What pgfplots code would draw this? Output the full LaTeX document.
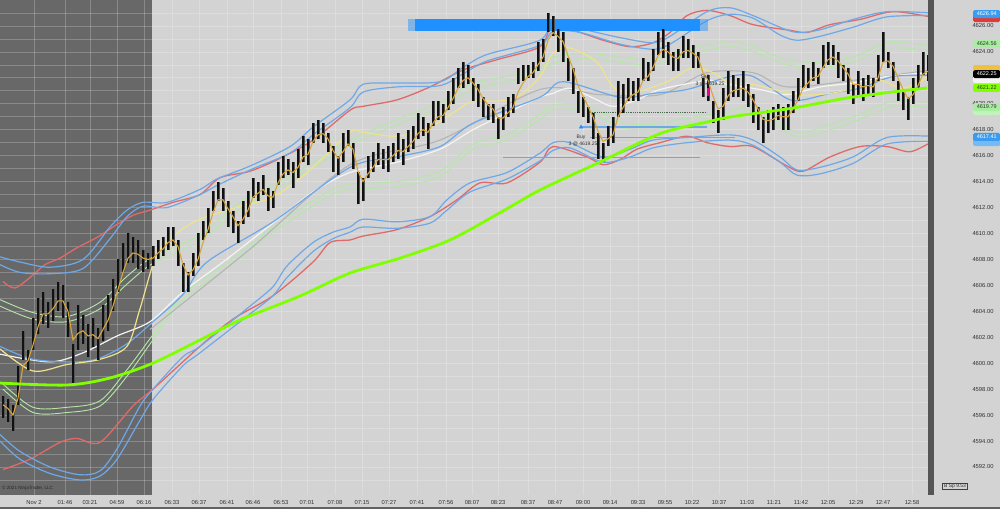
\documentclass[border=0pt]{standalone}
\usepackage{fontspec}
\setmainfont{Liberation Sans}
\usepackage{xcolor}
\usepackage{pgfplots}
\usepackage{pgfplotstable}
\pgfplotsset{compat=1.18}
\definecolor{bglight}{HTML}{D3D3D3}
\definecolor{bgdark}{HTML}{686868}
\definecolor{bandred}{HTML}{E06A6A}
\definecolor{bandblue}{HTML}{6EA8E8}
\definecolor{lgreen}{HTML}{B5E8A8}
\definecolor{yellowl}{HTML}{EEE38C}
\definecolor{whitel}{HTML}{F4F4F4}
\definecolor{grayl}{HTML}{B4B4B4}
\definecolor{goldl}{HTML}{D8A53C}
\definecolor{sma}{HTML}{80FF00}
\definecolor{barcol}{HTML}{111111}
\definecolor{barshade}{HTML}{555555}
\definecolor{barblue}{HTML}{1E90FF}
\definecolor{scroll}{HTML}{555555}
\definecolor{labelgray}{HTML}{303030}
\definecolor{flagblue}{HTML}{3A9CF0}
\definecolor{flagred}{HTML}{E03A3A}
\definecolor{flaglg}{HTML}{A8EEA0}
\definecolor{flaggold}{HTML}{F0C040}
\definecolor{dkgreen}{HTML}{4E6A4E}
\pagecolor{bglight}

\pgfplotstableread{
x lo hi ema
3 4595.75 4597.5 4596.8
8 4595.5 4597.25 4596.5
13 4594.75 4596.75 4596.0
18 4596.75 4599.75 4597.3
23 4600.25 4602.5 4599.8
28 4599.5 4601.0 4600.2
33 4601.0 4603.5 4601.4
38 4602.25 4605.0 4602.8
43 4603.0 4605.5 4603.8
48 4602.75 4604.75 4603.8
53 4603.25 4605.75 4604.2
58 4604.0 4606.25 4604.8
63 4603.5 4606.0 4604.8
68 4602.0 4604.75 4604.0
73 4598.5 4601.5 4601.8
78 4601.0 4604.5 4602.3
83 4601.5 4603.75 4602.5
88 4600.5 4603.0 4602.1
93 4601.25 4603.5 4602.2
98 4600.25 4602.75 4601.9
103 4601.75 4604.5 4602.6
108 4602.5 4605.25 4603.3
113 4604.0 4606.5 4604.4
118 4605.5 4608.0 4605.7
123 4607.0 4609.25 4607.0
128 4607.75 4610.0 4608.1
133 4607.75 4609.75 4608.5
138 4607.25 4609.5 4608.4
143 4607.0 4608.75 4608.1
148 4607.25 4608.5 4608.0
153 4607.5 4609.0 4608.1
158 4608.0 4609.5 4608.5
163 4608.25 4609.75 4608.8
168 4608.75 4610.5 4609.3
173 4609.0 4610.5 4609.5
178 4607.5 4609.5 4609.0
183 4605.5 4607.75 4607.6
188 4605.5 4607.0 4606.8
193 4606.75 4608.5 4607.2
198 4607.5 4610.0 4608.0
203 4609.5 4611.0 4609.3
208 4610.0 4612.0 4610.3
213 4611.75 4613.25 4611.6
218 4612.5 4614.0 4612.6
223 4611.75 4613.5 4612.6
228 4610.5 4612.5 4611.9
233 4610.0 4611.75 4611.3
238 4609.25 4611.0 4610.6
243 4610.75 4612.5 4611.1
248 4611.25 4613.25 4611.8
253 4612.75 4614.25 4612.8
258 4612.5 4614.0 4613.1
263 4613.0 4614.5 4613.4
268 4611.75 4613.5 4612.9
273 4612.0 4613.25 4612.8
278 4613.75 4615.5 4613.9
283 4614.25 4616.0 4614.6
288 4614.5 4615.75 4614.9
293 4613.5 4615.5 4614.7
298 4614.25 4616.5 4615.1
303 4615.5 4617.5 4615.9
308 4615.25 4617.25 4616.1
313 4617.0 4618.5 4617.1
318 4617.25 4618.75 4617.6
323 4617.0 4618.5 4617.7
328 4616.25 4617.75 4617.3
333 4614.75 4616.75 4616.4
338 4614.5 4616.0 4615.8
343 4615.5 4617.75 4616.3
348 4616.75 4618.0 4616.9
353 4615.0 4617.0 4616.5
358 4612.25 4614.75 4614.8
363 4612.5 4614.25 4614.0
368 4614.25 4616.0 4614.6
373 4614.75 4616.25 4615.1
378 4615.25 4617.0 4615.7
383 4615.0 4616.5 4615.7
388 4614.75 4616.75 4615.7
393 4615.5 4617.0 4616.0
398 4615.75 4617.75 4616.4
403 4615.25 4617.25 4616.3
408 4616.25 4618.0 4616.7
413 4616.5 4618.25 4617.1
418 4617.25 4619.25 4617.7
423 4617.5 4619.0 4618.0
428 4616.5 4618.5 4617.8
433 4618.25 4620.25 4618.5
438 4618.75 4620.25 4619.0
443 4618.5 4620.0 4619.1
448 4619.5 4621.0 4619.7
453 4620.0 4622.0 4620.4
458 4621.25 4622.75 4621.2
463 4621.25 4623.25 4621.8
468 4621.5 4623.0 4622.0
473 4620.25 4622.0 4621.6
478 4619.75 4621.5 4621.1
483 4619.0 4620.5 4620.4
488 4618.75 4620.0 4619.9
493 4618.5 4620.0 4619.6
498 4617.25 4619.0 4618.9
503 4618.0 4619.75 4618.9
508 4619.0 4620.5 4619.3
513 4619.25 4620.75 4619.7
518 4621.5 4622.75 4620.9
523 4621.75 4623.0 4621.6
528 4622.0 4623.0 4622.1
533 4622.0 4623.25 4622.4
538 4622.5 4624.75 4623.0
543 4623.25 4625.0 4623.6
548 4625.5 4627.0 4624.9
553 4625.25 4626.75 4625.5
558 4624.0 4625.75 4625.2
563 4623.25 4625.5 4624.8
568 4621.75 4623.5 4623.7
573 4620.75 4622.75 4622.7
578 4619.25 4621.0 4621.4
583 4619.0 4620.5 4620.6
588 4618.5 4619.75 4619.8
593 4617.25 4619.25 4619.0
598 4615.75 4617.75 4617.9
603 4615.5 4617.0 4617.1
608 4616.75 4618.25 4617.3
613 4617.0 4619.0 4617.6
618 4619.0 4621.75 4619.0
623 4619.25 4621.5 4619.7
628 4620.25 4622.0 4620.4
633 4620.25 4621.75 4620.7
638 4620.25 4622.0 4620.9
643 4621.75 4623.5 4621.8
648 4621.75 4623.25 4622.1
653 4622.5 4624.25 4622.8
658 4623.75 4625.5 4623.7
663 4623.5 4625.75 4624.2
668 4623.0 4624.75 4624.0
673 4622.5 4624.0 4623.6
678 4622.5 4624.25 4623.5
683 4623.5 4625.25 4624.0
688 4623.5 4625.0 4624.1
693 4622.75 4624.5 4623.9
698 4622.75 4624.0 4623.6
703 4620.5 4622.0 4622.4
708 4620.25 4622.25 4621.8
713 4618.5 4620.25 4620.6
718 4617.75 4619.5 4619.6
723 4618.75 4621.25 4619.8
728 4620.25 4622.5 4620.6
733 4620.5 4622.25 4621.0
738 4620.5 4622.0 4621.1
743 4620.25 4622.5 4621.2
748 4619.75 4621.5 4620.9
753 4618.5 4620.75 4620.3
758 4618.0 4619.75 4619.6
763 4617.0 4619.0 4618.8
768 4617.75 4619.5 4618.7
773 4618.0 4619.75 4618.8
778 4618.75 4620.0 4619.1
783 4618.0 4619.75 4619.0
788 4618.0 4620.0 4619.0
793 4619.25 4621.0 4619.6
798 4620.25 4622.0 4620.3
803 4621.25 4623.0 4621.2
808 4621.25 4622.75 4621.6
813 4621.75 4623.25 4622.0
818 4621.5 4622.75 4622.1
823 4622.75 4624.5 4622.8
828 4623.0 4624.75 4623.4
833 4623.0 4624.5 4623.6
838 4622.0 4624.0 4623.3
843 4621.75 4623.0 4622.8
848 4620.75 4622.75 4622.3
853 4620.0 4621.5 4621.5
858 4620.5 4622.5 4621.5
863 4620.25 4622.0 4621.3
868 4620.75 4622.25 4621.4
873 4620.5 4622.0 4621.3
878 4621.75 4623.75 4622.0
883 4623.25 4625.5 4623.2
888 4622.75 4624.0 4623.3
893 4621.75 4623.25 4622.9
898 4620.25 4621.75 4622.0
903 4619.5 4621.0 4621.1
908 4618.75 4620.5 4620.4
913 4620.0 4622.0 4620.7
918 4621.25 4623.0 4621.4
923 4622.25 4624.0 4622.3
928 4621.75 4623.75 4622.5
}\bars

\begin{document}
\begin{tikzpicture}
\begin{axis}[
  at={(0pt,0pt)}, anchor=south west,
  scale only axis, width=935pt, height=495pt,
  xmin=0, xmax=935, ymin=4589.84, ymax=4628,
  clip=false, set layers,
  axis line style={draw=none},
  major tick length=0pt, minor tick length=0pt,
  ytick={4592,4594,...,4626},
  minor ytick={4591,4593,...,4627},
  yticklabel pos=right,
  grid=both,
  major grid style={white, opacity=0.22, line width=0.7pt},
  minor grid style={white, opacity=0.22, line width=0.7pt},
  xtick={34,65,90,117,144,172,199,227,253,281,307,335,362,389,417,446,472,498,528,555,583,610,638,665,692,719,747,774,801,828,856,883,912},
  xticklabels={Nov 2,01:46,03:21,04:59,06:16,06:33,06:37,06:41,06:46,06:53,07:01,07:08,07:15,07:27,07:41,07:56,08:07,08:23,08:37,08:47,09:00,09:14,09:33,09:55,10:22,10:37,11:03,11:21,11:42,12:05,12:29,12:47,12:58},
  tick label style={font=\fontsize{5.8}{7}\selectfont, text=labelgray},
  xticklabel style={yshift=-2pt},
  yticklabel style={anchor=east, xshift=62pt, /pgf/number format/.cd, fixed, fixed zerofill, precision=2, 1000 sep={}, assume math mode=true},
]
% dark pre-session region
\addplot[fill=bgdark, draw=none, on layer=axis background, forget plot] coordinates {(0,4589.84) (152,4589.84) (152,4628) (0,4628)};

% outer bands
\addplot[bandred, line width=1.3pt, smooth] coordinates {(3,4606.3) (15,4605.8) (33,4606.8) (45,4607.6) (60,4608.1) (77,4608.9) (97,4609.7) (117,4610.7) (133,4611.4) (150,4611.8) (173,4612.4) (200,4613.0) (220,4614.3) (250,4614.8) (280,4615.8) (313,4617.2) (350,4619.5) (363,4619.8) (397,4620.3) (430,4621.3) (463,4622.6) (497,4623.4) (540,4624.4) (553,4626.1) (580,4625.5) (603,4624.9) (630,4624.4) (653,4624.7) (670,4625.5) (687,4626.8) (707,4627.2) (730,4626.8) (753,4626.1) (787,4625.7) (807,4625.5) (830,4626.1) (860,4626.5) (893,4627.1) (930,4626.7)};
\addplot[bandblue, line width=1.2pt, smooth] coordinates {(0,4608.2) (20,4607.8) (50,4607.4) (83,4608.0) (110,4610.5) (127,4611.8) (143,4612.4) (167,4612.4) (200,4613.4) (217,4614.2) (250,4615.2) (290,4616.7) (313,4618.2) (350,4620.3) (363,4621.5) (397,4621.6) (440,4621.7) (463,4622.8) (487,4623.8) (540,4624.9) (553,4626.3) (580,4625.8) (620,4625.1) (653,4624.7) (670,4625.2) (707,4627.1) (730,4627.4) (753,4626.8) (780,4625.9) (797,4625.5) (820,4625.7) (853,4626.5) (887,4627.1) (930,4627.0)};
\addplot[bandblue, line width=1.2pt, smooth] coordinates {(0,4607.6) (20,4607.0) (50,4606.9) (83,4607.3) (110,4609.6) (127,4611.3) (143,4612.1) (167,4612.0) (200,4613.0) (217,4613.7) (250,4614.9) (290,4616.2) (313,4617.6) (350,4619.7) (363,4620.9) (397,4621.3) (440,4621.4) (463,4622.3) (487,4623.3) (540,4624.5) (553,4625.6) (580,4625.5) (620,4624.6) (653,4624.2) (670,4624.6) (707,4626.4) (730,4626.9) (753,4626.6) (780,4625.3) (797,4624.9) (820,4625.2) (853,4625.9) (887,4626.7) (930,4626.8)};
\addplot[bandred, line width=1.3pt, smooth] coordinates {(3,4591.8) (30,4592.6) (60,4593.9) (77,4594.2) (100,4593.9) (133,4596.7) (153,4598.0) (200,4601.3) (233,4603.4) (273,4605.2) (313,4607.8) (330,4609.3) (350,4609.5) (363,4609.8) (397,4610.3) (430,4611.3) (457,4612.6) (480,4613.9) (507,4613.9) (540,4615.5) (553,4616.7) (587,4615.9) (603,4615.3) (620,4615.7) (637,4616.5) (660,4617.0) (687,4617.5) (707,4617.0) (730,4616.7) (753,4616.7) (787,4615.2) (803,4614.8) (830,4615.9) (860,4616.7) (887,4616.7) (910,4616.3) (930,4617.0)};
\addplot[bandblue, line width=1.2pt, smooth] coordinates {(0,4594.5) (20,4593.2) (50,4592.0) (80,4591.4) (100,4591.7) (117,4593.4) (140,4596.7) (153,4598.0) (183,4600.5) (200,4601.3) (250,4604.4) (273,4605.9) (287,4607.5) (313,4609.3) (333,4610.1) (350,4610.5) (363,4611.1) (397,4610.9) (430,4611.3) (447,4612.6) (470,4613.9) (507,4614.7) (540,4616.2) (553,4617.0) (570,4617.0) (603,4615.9) (630,4616.5) (653,4617.2) (687,4617.4) (730,4617.6) (753,4617.2) (780,4615.9) (797,4614.9) (820,4615.1) (853,4615.9) (887,4617.4) (930,4617.5)};
\addplot[bandblue, line width=1.2pt, smooth] coordinates {(0,4594.0) (20,4592.6) (50,4591.5) (80,4591.0) (100,4591.3) (117,4592.6) (140,4595.6) (153,4597.2) (183,4599.8) (200,4600.8) (250,4603.8) (273,4605.2) (287,4606.6) (313,4608.6) (333,4609.6) (350,4610.1) (363,4610.5) (397,4610.4) (430,4610.8) (447,4611.8) (470,4613.2) (507,4614.2) (540,4615.6) (553,4616.4) (570,4616.6) (603,4615.5) (630,4615.9) (653,4616.6) (687,4617.0) (730,4617.2) (753,4616.8) (780,4615.5) (797,4614.5) (820,4614.6) (853,4615.4) (887,4616.9) (930,4617.1)};

% inner bands
\addplot[lgreen, line width=0.9pt, smooth] coordinates {(0,4604.9) (33,4603.9) (67,4603.6) (100,4604.7) (127,4606.7) (153,4608.2) (200,4609.9) (240,4612.4) (290,4614.4) (320,4615.8) (350,4617.2) (397,4618.8) (440,4620.1) (473,4621.6) (507,4622.1) (540,4622.8) (553,4623.6) (587,4623.9) (620,4623.6) (653,4623.4) (687,4624.2) (730,4624.8) (753,4624.4) (787,4623.4) (820,4623.2) (853,4623.6) (887,4624.7) (930,4624.5)};
\addplot[lgreen, line width=0.9pt, smooth] coordinates {(0,4604.4) (33,4603.4) (67,4603.2) (100,4604.2) (127,4606.1) (153,4607.7) (200,4609.4) (240,4611.9) (290,4614.0) (320,4615.4) (350,4616.8) (397,4618.4) (440,4619.7) (473,4621.1) (507,4621.7) (540,4622.4) (553,4623.1) (587,4623.5) (620,4623.2) (653,4623.0) (687,4623.8) (730,4624.4) (753,4624.0) (787,4623.0) (820,4622.8) (853,4623.2) (887,4624.3) (930,4624.1)};
\addplot[lgreen, line width=0.9pt, smooth] coordinates {(3,4598.0) (33,4596.2) (67,4596.2) (100,4596.7) (127,4599.0) (153,4601.8) (183,4604.9) (230,4607.5) (273,4610.1) (327,4612.8) (350,4613.4) (397,4613.6) (440,4614.4) (473,4616.5) (507,4617.2) (540,4618.8) (553,4619.5) (587,4619.5) (620,4618.2) (653,4618.0) (687,4618.5) (730,4619.0) (753,4619.5) (787,4617.8) (803,4617.4) (830,4618.0) (860,4618.8) (893,4619.8) (930,4619.7)};
\addplot[lgreen, line width=0.9pt, smooth] coordinates {(3,4598.4) (33,4596.6) (67,4596.6) (100,4597.1) (127,4599.5) (153,4602.2) (183,4605.3) (230,4607.9) (273,4610.5) (327,4613.2) (350,4613.8) (397,4614.0) (440,4614.8) (473,4616.9) (507,4617.6) (540,4619.2) (553,4619.9) (587,4619.9) (620,4618.6) (653,4618.4) (687,4618.9) (730,4619.4) (753,4619.9) (787,4618.2) (803,4617.8) (830,4618.4) (860,4619.2) (893,4620.2) (930,4620.1)};

% middle averages
\addplot[grayl, line width=1.1pt, smooth] coordinates {(150,4602.6) (250,4608.8) (350,4615.3) (440,4617.2) (540,4621.1) (600,4620.7) (660,4620.7) (707,4622.4) (753,4622.4) (787,4621.3) (853,4621.8) (930,4622.6)};
\addplot[whitel, line width=1.2pt, smooth] coordinates {(0,4600.7) (50,4600.1) (83,4600.8) (117,4602.1) (150,4603.2) (183,4605.5) (223,4607.8) (273,4610.8) (313,4613.2) (350,4614.7) (397,4615.5) (440,4616.5) (473,4618.0) (507,4619.3) (540,4620.5) (553,4620.8) (570,4621.2) (597,4620.3) (613,4619.8) (637,4620.3) (660,4621.1) (707,4621.8) (720,4621.6) (760,4621.1) (787,4620.7) (820,4621.3) (853,4621.6) (887,4622.1) (930,4622.4)};
\addplot[bandblue, line width=1.2pt, smooth] coordinates {(0,4601.3) (33,4600.3) (77,4600.1) (100,4600.4) (127,4601.5) (153,4603.2) (183,4605.3) (207,4607.8) (273,4610.9) (350,4615.1) (397,4615.9) (440,4616.7) (473,4618.5) (540,4620.5) (563,4621.7) (620,4620.5) (653,4620.8) (687,4621.1) (730,4622.1) (753,4622.1) (787,4620.4) (803,4620.3) (830,4620.8) (860,4621.2) (893,4622.1) (930,4622.2)};
\addplot[yellowl, line width=1.2pt, smooth] coordinates {(0,4601.1) (33,4599.4) (67,4599.9) (100,4600.3) (127,4601.3) (140,4604.2) (157,4608.4) (180,4610.2) (200,4611.1) (240,4612.1) (273,4612.8) (307,4614.7) (350,4617.8) (363,4617.8) (397,4617.5) (430,4618.2) (453,4619.3) (473,4620.2) (497,4620.2) (517,4620.5) (540,4622.1) (553,4623.9) (570,4624.3) (597,4623.2) (613,4621.3) (630,4620.8) (653,4621.3) (670,4621.8) (693,4622.8) (713,4622.4) (730,4621.6) (753,4621.5) (797,4620.7) (830,4620.8) (853,4621.2) (880,4621.8) (903,4621.2) (930,4622.1)};

% order lines
\addplot[barblue, line width=12pt, opacity=0.45] coordinates {(408,4626.1) (415,4626.1)};
\addplot[barblue, line width=12pt] coordinates {(415,4626.1) (700,4626.1)};
\addplot[barblue, line width=12pt, opacity=0.45] coordinates {(700,4626.1) (708,4626.1)};
\addplot[bandblue, line width=1.4pt] coordinates {(580,4618.2) (707,4618.2)};
\addplot[bandblue, line width=1.4pt] coordinates {(590,4617.4) (735,4617.4)};
\addplot[bandblue, line width=1.4pt] coordinates {(503,4615.85) (700,4615.85)};
\addplot[dkgreen, line width=0.8pt, densely dotted] coordinates {(590,4619.3) (707,4619.3)};

% price bars
\addplot[draw=none, forget plot, error bars/.cd, y dir=plus, y explicit, error mark=none, error bar style={draw=barshade, solid, line width=3pt}] table[x=x, y=lo, y error plus expr=\thisrow{hi}-\thisrow{lo}] {\bars};
\addplot[draw=none, forget plot, error bars/.cd, y dir=plus, y explicit, error mark=none, error bar style={draw=barcol, solid, line width=1.2pt}] table[x=x, y=lo, y error plus expr=\thisrow{hi}-\thisrow{lo}] {\bars};
\addplot[goldl, line width=1.1pt] table[x=x, y=ema] {\bars};

% long average
\addplot[sma, line width=2.8pt, smooth] coordinates {(0,4598.47) (67,4598.32) (110,4598.86) (153,4600.01) (200,4601.79) (240,4603.33) (300,4605.18) (350,4606.95) (400,4608.1) (450,4609.5) (500,4611.6) (540,4613.35) (600,4615.51) (660,4617.7) (707,4618.59) (730,4618.98) (793,4619.67) (853,4620.52) (927,4621.22)};

% executions
\addplot[barblue, only marks, mark=triangle*, mark size=2pt] coordinates {(581,4618.2)};
\addplot[magenta, line width=2pt] coordinates {(708,4620.6) (708,4621.2)};
\node[font=\fontsize{5}{6}\selectfont, text=labelgray, inner sep=0pt] at (axis cs:581,4617.44) {Buy};
\node[font=\fontsize{5}{6}\selectfont, text=labelgray, inner sep=0pt] at (axis cs:583,4616.9) {3 @ 4619.25};
\node[font=\fontsize{5}{6}\selectfont, text=labelgray, inner sep=0pt] at (axis cs:705,4622.06) {Sell};
\node[font=\fontsize{5}{6}\selectfont, text=labelgray, inner sep=0pt] at (axis cs:710,4621.52) {3 @ 4619.25};

% scrollbar
\addplot[fill=scroll, draw=none] coordinates {(928,4589.84) (934,4589.84) (934,4628) (928,4628)};

% price flags
\tikzset{flag/.style={anchor=west, inner xsep=1pt, inner ysep=0pt, rounded corners=1.5pt, font=\fontsize{5.5}{6}\selectfont, minimum height=8pt, minimum width=27pt}}
\node[flag, fill=flagred] at (axis cs:973,4626.61) {};
\node[flag, fill=flagblue, text=white] at (axis cs:973,4626.92) {4626.94};
\node[flag, fill=flaglg, text=black!80] at (axis cs:973,4624.61) {4624.56};
\node[flag, fill=whitel] at (axis cs:973,4621.91) {};
\node[flag, fill=flaggold] at (axis cs:973,4622.68) {};
\node[flag, fill=black, text=white] at (axis cs:973,4622.29) {4622.25};
\node[flag, fill=sma, text=black!80] at (axis cs:973,4621.22) {4621.22};
\node[flag, fill=flaglg!70!white] at (axis cs:973,4619.44) {};
\node[flag, fill=flaglg, text=black!80] at (axis cs:973,4619.75) {4619.79};
\node[flag, fill=flagblue!70!white] at (axis cs:973,4617.05) {};
\node[flag, fill=flagblue, text=white] at (axis cs:973,4617.44) {4617.41};

% footer items
\node[anchor=west, font=\fontsize{4.6}{5}\selectfont, text=black!85, inner sep=0pt] at (axis cs:2,4590.37) {\textcopyright{} 2021 NinjaTrader, LLC};
\node[draw=black!75, line width=0.5pt, fill=bglight, inner xsep=1.5pt, inner ysep=1pt, font=\fontsize{5}{6}\selectfont, text=labelgray] at (axis cs:955,4590.53) {B Sp 9.53};
\end{axis}
\pgfresetboundingbox
\useasboundingbox (0pt,-14pt) rectangle (1000pt,495pt);
\fill[black!62] (0pt,-14pt) rectangle (1000pt,-12pt);
\end{tikzpicture}
\end{document}
